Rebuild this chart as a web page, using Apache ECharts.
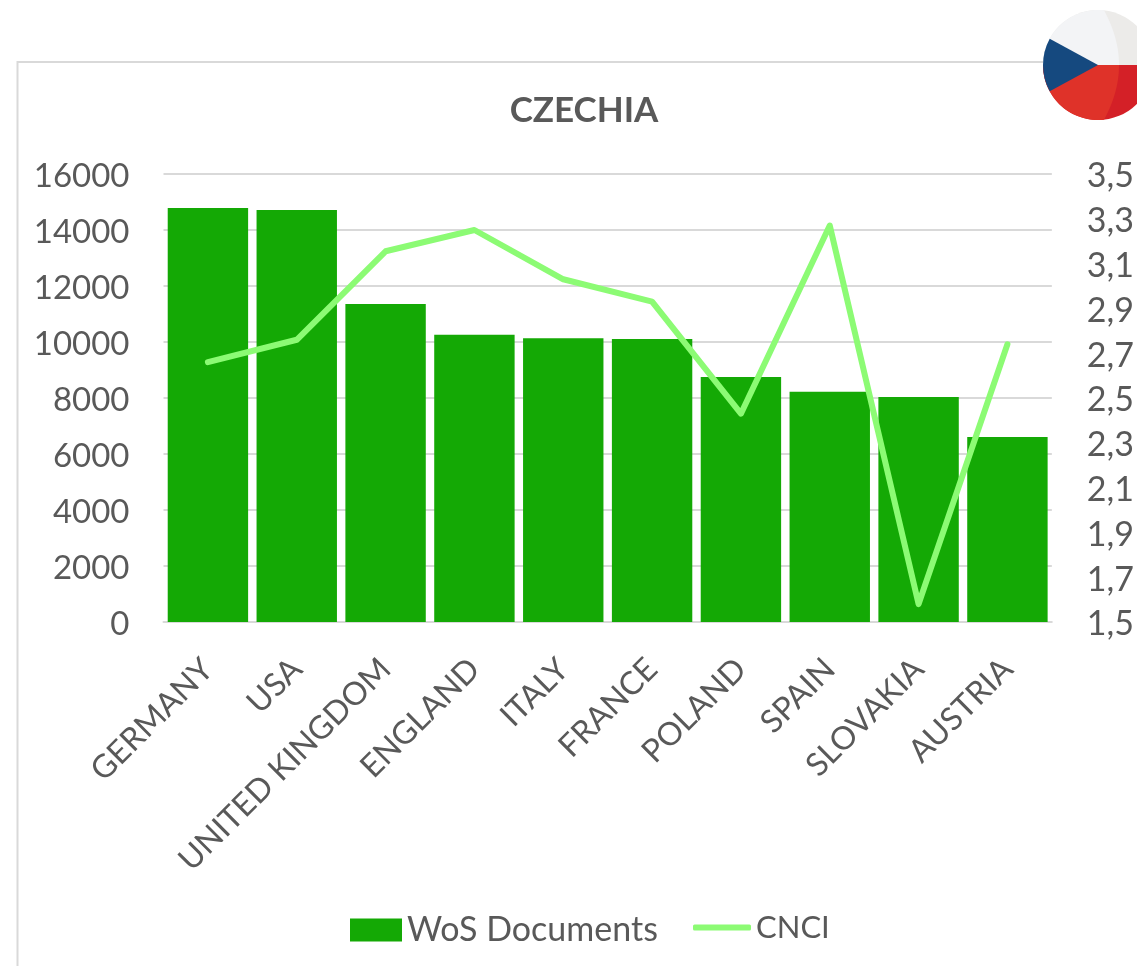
<!DOCTYPE html>
<html><head><meta charset="utf-8">
<style>html,body{margin:0;padding:0;background:#fff}#c{width:1137px;height:966px}</style>
<script src="https://cdn.jsdelivr.net/npm/echarts@6/dist/echarts.min.js"></script>
</head><body><div id="c"></div>
<script>
const categories = ['GERMANY','USA','UNITED KINGDOM','ENGLAND','ITALY','FRANCE','POLAND','SPAIN','SLOVAKIA','AUSTRIA'];
const wosDocuments = [14790,14710,11360,10260,10130,10110,8750,8220,8040,6610];
const cnci = [2.66,2.76,3.155,3.25,3.03,2.93,2.43,3.27,1.58,2.74];
const cnciTicks = [1.5,1.7,1.9,2.1,2.3,2.5,2.7,2.9,3.1,3.3,3.5];
const TEXT = '#595959', GRID = '#D9D9D9', FONT = 'Lato';

const chart = echarts.init(document.getElementById('c'), null, {renderer:'canvas'});
const cx = 1098, cy = 65, r = 55;
function flagFace(sign){
  const pts = [];
  const a0 = Math.asin(6/r);
  for(let i=0;i<=40;i++){
    const a = Math.PI/2 + a0*(-1) + (Math.PI/2 + a0)*i/40;
    pts.push([cx + r*Math.cos(a), cy + sign*r*Math.sin(a)]);
  }
  for(let i=0;i<=20;i++){
    const t = i/20;
    pts.push([cx + 21 - 15*t*t, cy + sign*r*Math.sin(Math.PI/2 - a0)*t]);
  }
  return pts;
}
chart.setOption({
  animation:false,
  backgroundColor:'#fff',
  textStyle:{fontFamily:FONT,color:TEXT},
  title:{text:'CZECHIA',left:579,top:88,textAlign:'center',
    textStyle:{fontFamily:FONT,fontSize:35,fontWeight:'bold',color:TEXT}},
  legend:[
    {left:345,top:908,itemWidth:52,itemHeight:23,icon:'rect',
     textStyle:{fontFamily:FONT,fontSize:34,color:TEXT},data:['WoS Documents']},
    {left:688,top:907,itemWidth:58,itemHeight:6,icon:'roundRect',
     textStyle:{fontFamily:FONT,fontSize:31,color:TEXT},data:['CNCI']}
  ],
  grid:{left:163.5,right:85,top:174,bottom:344,containLabel:false},
  xAxis:{type:'category',data:categories,
    axisLine:{lineStyle:{color:GRID,width:2}},axisTick:{show:false},
    axisLabel:{rotate:45,interval:0,margin:42,color:TEXT,fontFamily:FONT,fontSize:32}},
  yAxis:[
    {type:'value',min:0,max:16000,interval:2000,
     axisLine:{show:false},axisTick:{show:false},
     splitLine:{lineStyle:{color:GRID,width:2}},
     axisLabel:{margin:34,color:TEXT,formatter:v=>'{a|'+v+'}',
       rich:{a:{fontFamily:FONT,fontSize:33,color:TEXT,padding:[5,0,0,0]}}}},
    {type:'value',min:1.5,max:3.5,position:'right',
     axisLine:{show:false},axisTick:{show:false},splitLine:{show:false},
     axisLabel:{customValues:cnciTicks,margin:35,color:TEXT,
       formatter:v=>'{a|'+v.toFixed(1).replace('.',',')+'}',
       rich:{a:{fontFamily:FONT,fontSize:34,color:TEXT,padding:[5,0,0,0]}}}}
  ],
  series:[
    {name:'WoS Documents',type:'bar',data:wosDocuments,barCategoryGap:'9.5%',
     itemStyle:{color:'#14A905'}},
    {name:'CNCI',type:'line',yAxisIndex:1,data:cnci,symbol:'none',z:5,
     lineStyle:{color:'#8CFB74',width:6,cap:'round',join:'round'},
     itemStyle:{color:'#8CFB74'}}
  ],
  graphic:[
    {type:'polyline',z:-1,shape:{points:[[17.5,966],[17.5,62],[1050,62]]},
     style:{stroke:GRID,lineWidth:2,fill:null}},
    {type:'sector',z:10,shape:{cx,cy,r,r0:0,startAngle:Math.PI,endAngle:2*Math.PI,clockwise:true},style:{fill:'#ECEBE9'}},
    {type:'sector',z:10,shape:{cx,cy,r,r0:0,startAngle:0,endAngle:Math.PI,clockwise:true},style:{fill:'#D42027'}},
    {type:'polygon',z:11,shape:{points:flagFace(-1)},style:{fill:'#F3F4F6'}},
    {type:'polygon',z:11,shape:{points:flagFace(1)},style:{fill:'#DF3229'}},
    {type:'sector',z:12,shape:{cx,cy,r,r0:0,startAngle:Math.PI-0.5,endAngle:Math.PI+0.5,clockwise:true},style:{fill:'#15497F'}}
  ]
});
</script></body></html>
